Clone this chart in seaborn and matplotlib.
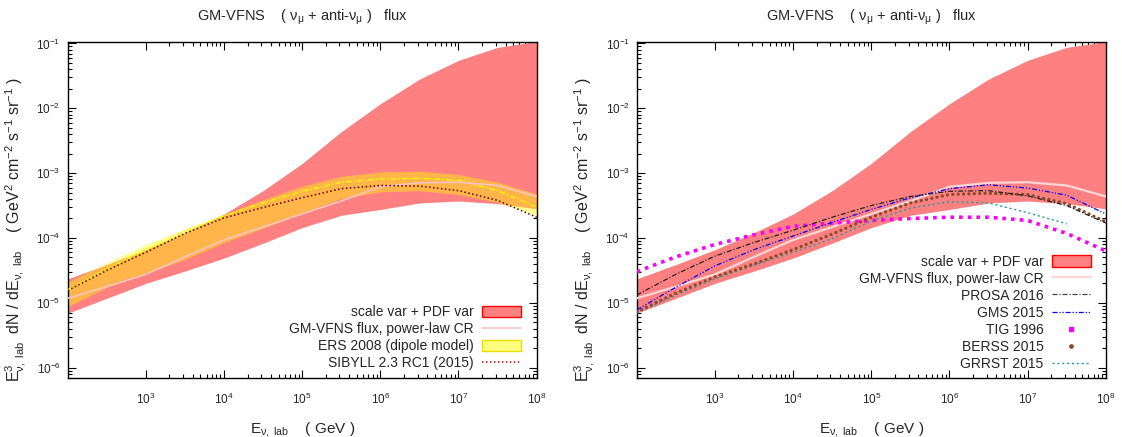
import numpy as np
import pandas as pd
import matplotlib
matplotlib.use("Agg")
import matplotlib.pyplot as plt
import seaborn as sns
from matplotlib.ticker import FixedLocator, LogFormatterSciNotation, NullFormatter
from matplotlib.patches import Patch
from matplotlib.lines import Line2D

# x grid: log10(E_nu,lab / GeV)
log_e = [2.0, 2.5, 3.0, 3.5, 4.0, 4.5, 5.0, 5.5, 6.0, 6.5, 7.0, 7.5, 8.0]

# all fluxes below as log10(E^3 dN/dE / GeV^2 cm^-2 s^-1 sr^-1)
# GM-VFNS: scale var + PDF var band and central power-law CR curve
band_hi = [-4.63, -4.41, -4.18, -3.92, -3.63, -3.27, -2.85, -2.36, -1.93, -1.55, -1.26, -1.06, -0.97]
band_lo = [-5.16, -4.93, -4.70, -4.51, -4.31, -4.08, -3.84, -3.65, -3.56, -3.46, -3.43, -3.47, -3.55]
gmvfns = [-4.93, -4.75, -4.56, -4.29, -4.03, -3.83, -3.63, -3.43, -3.21, -3.15, -3.14, -3.19, -3.36]

# left panel
ers_hi = [-4.68, -4.38, -4.10, -3.86, -3.63, -3.41, -3.20, -3.05, -2.98, -2.97, -3.02, -3.14, -3.32]
ers_lo = [-5.06, -4.76, -4.55, -4.33, -4.07, -3.85, -3.62, -3.39, -3.29, -3.27, -3.33, -3.45, -3.65]
ers_mid = [-4.80, -4.48, -4.18, -3.90, -3.66, -3.46, -3.28, -3.14, -3.09, -3.08, -3.11, -3.27, -3.52]
sibyll = [-4.81, -4.50, -4.22, -3.93, -3.69, -3.53, -3.38, -3.24, -3.19, -3.20, -3.27, -3.42, -3.68]

# right panel
prosa = [-4.88, -4.56, -4.28, -4.07, -3.88, -3.68, -3.50, -3.36, -3.28, -3.27, -3.35, -3.50, -3.77]
gms = [-5.11, -4.76, -4.43, -4.18, -3.97, -3.76, -3.56, -3.38, -3.24, -3.18, -3.23, -3.34, -3.63]
tig = [-4.52, -4.29, -4.10, -3.95, -3.82, -3.77, -3.73, -3.70, -3.68, -3.68, -3.73, -3.93, -4.20]
berss = [-5.14, -4.85, -4.60, -4.40, -4.18, -3.94, -3.68, -3.46, -3.33, -3.31, -3.33, -3.47, -3.75]
log_e_grrst = [2.0, 2.5, 3.0, 3.5, 4.0, 4.5, 5.0, 5.5, 6.0, 6.5, 7.0, 7.5]
grrst = [-5.16, -4.88, -4.63, -4.42, -4.22, -4.01, -3.74, -3.54, -3.44, -3.46, -3.61, -3.78]

df = pd.DataFrame({"E": 10 ** np.array(log_e)})
for name, vals in [("band_hi", band_hi), ("band_lo", band_lo), ("gmvfns", gmvfns),
                   ("ers_hi", ers_hi), ("ers_lo", ers_lo), ("ers_mid", ers_mid),
                   ("sibyll", sibyll), ("prosa", prosa), ("gms", gms),
                   ("tig", tig), ("berss", berss)]:
    df[name] = 10 ** np.array(vals)
df_grrst = pd.DataFrame({"E": 10 ** np.array(log_e_grrst), "grrst": 10 ** np.array(grrst)})

sns.set_theme(style="ticks")
plt.rcParams["font.family"] = ["Liberation Sans", "DejaVu Sans"]
plt.rcParams["mathtext.fontset"] = "custom"
plt.rcParams["mathtext.rm"] = "Liberation Sans"
plt.rcParams["mathtext.it"] = "Liberation Sans:italic"
plt.rcParams["mathtext.bf"] = "Liberation Sans:bold"
plt.rcParams["mathtext.sf"] = "Liberation Sans"

RED_FILL = "#ff8080"
PINK_L = "#f6c4c4"
PINK_R = "#ffd6d6"

title = r"GM-VFNS    ( ν$_{\mathrm{μ}}$ + anti-ν$_{\mathrm{μ}}$ )   flux"
ylab = (r"E$^{3}_{\mathrm{ν,\ lab}}$  dN / dE$_{\mathrm{ν,\ lab}}$    "
        r"( GeV$^{2}$ cm$^{-2}$ s$^{-1}$ sr$^{-1}$ )")
xlab = r"E$_{\mathrm{ν,\ lab}}$    ( GeV )"

fig = plt.figure(figsize=(11.22, 4.37), dpi=100)
ax1 = fig.add_axes([0.0603, 0.1357, 0.418, 0.768])
ax2 = fig.add_axes([0.5675, 0.1357, 0.418, 0.768])


def style_axes(ax):
    ax.set_xscale("log")
    ax.set_yscale("log")
    ax.set_xlim(1e2, 1e8)
    ax.set_ylim(7e-7, 0.105)
    ax.xaxis.set_major_locator(FixedLocator([1e3, 1e4, 1e5, 1e6, 1e7, 1e8]))
    ax.xaxis.set_major_formatter(LogFormatterSciNotation())
    ax.xaxis.set_minor_locator(FixedLocator([k * 10.0 ** d for d in range(3, 8) for k in range(2, 10)]))
    ax.xaxis.set_minor_formatter(NullFormatter())
    ax.yaxis.set_major_locator(FixedLocator([1e-6, 1e-5, 1e-4, 1e-3, 1e-2, 1e-1]))
    ax.yaxis.set_major_formatter(LogFormatterSciNotation())
    ax.yaxis.set_minor_locator(FixedLocator([k * 10.0 ** d for d in range(-7, -1) for k in range(2, 10)]))
    ax.yaxis.set_minor_formatter(NullFormatter())
    ax.tick_params(which="both", direction="in", top=True, right=True, color="black", width=0.8)
    ax.tick_params(which="major", length=5.5)
    ax.tick_params(which="minor", length=2.6)
    ax.tick_params(axis="x", which="major", labelsize=8.5, pad=10)
    ax.tick_params(axis="y", which="major", labelsize=8.5, pad=5)
    for s in ax.spines.values():
        s.set_linewidth(1.0)
        s.set_color("black")
    ax.set_title(title, fontsize=10.5, y=1.04)
    ax.set_xlabel(xlab, fontsize=11)
    ax.set_ylabel(ylab, fontsize=11.5)
    ax.xaxis.set_label_coords(0.5, -0.125)
    ax.yaxis.set_label_coords(-0.085, 0.44)


# ---- left panel
style_axes(ax1)
ax1.fill_between(df["E"], df["band_lo"], df["band_hi"], color=RED_FILL, lw=0, zorder=1)
ax1.fill_between(df["E"], df["ers_lo"], df["ers_hi"], color="yellow", alpha=0.42, lw=0, zorder=2)
sns.lineplot(data=df, x="E", y="ers_mid", ax=ax1, color="#ffff00", lw=1.0,
             linestyle=(0, (4, 1.5, 1, 1.5)), zorder=3)
sns.lineplot(data=df, x="E", y="gmvfns", ax=ax1, color=PINK_L, lw=1.2, zorder=4)
sns.lineplot(data=df, x="E", y="sibyll", ax=ax1, color="#500000", lw=1.1,
             linestyle=(0, (1, 1.6)), zorder=5)

h1 = [Patch(facecolor=RED_FILL, edgecolor="red", lw=1.0),
      Line2D([], [], color=PINK_L, lw=1.2),
      Patch(facecolor="#ffff80", edgecolor="#eedd00", lw=1.0),
      Line2D([], [], color="#8b1010", lw=1.1, linestyle=(0, (1, 1.6)))]
l1 = ["scale var + PDF var", "GM-VFNS flux, power-law CR", "ERS 2008 (dipole model)", "SIBYLL 2.3 RC1 (2015)"]
ax1.legend(h1, l1, loc="lower right", bbox_to_anchor=(0.966, 0.022), frameon=False,
           markerfirst=False, fontsize=10, handlelength=2.8, handleheight=0.9,
           handletextpad=0.6, labelspacing=0.22, borderaxespad=0, borderpad=0)

# ---- right panel
style_axes(ax2)
ax2.fill_between(df["E"], df["band_lo"], df["band_hi"], color=RED_FILL, lw=0, zorder=1)
sns.lineplot(data=df, x="E", y="gmvfns", ax=ax2, color=PINK_R, lw=1.6, zorder=3)
sns.lineplot(data=df, x="E", y="tig", ax=ax2, color="#ff00ff", lw=2.6,
             linestyle=(0, (1, 1.4)), dash_capstyle="butt", zorder=4)
sns.lineplot(data=df_grrst, x="E", y="grrst", ax=ax2, color="#229999", lw=1.0,
             linestyle=(0, (1.5, 2)), zorder=5)
sns.lineplot(data=df, x="E", y="berss", ax=ax2, color="#8b4a2b", lw=2.4,
             linestyle=(0, (0.01, 1.6)), dash_capstyle="round", zorder=6)
sns.lineplot(data=df, x="E", y="gms", ax=ax2, color="#0000ff", lw=0.9,
             linestyle=(0, (4, 1.5, 1, 1.5, 1, 1.5)), zorder=7)
sns.lineplot(data=df, x="E", y="prosa", ax=ax2, color="#222222", lw=0.9,
             linestyle=(0, (4, 1.5, 1, 1.5)), zorder=8)

h2 = [Patch(facecolor=RED_FILL, edgecolor="red", lw=1.0),
      Line2D([], [], color=PINK_R, lw=1.6),
      Line2D([], [], color="#444444", lw=0.9, linestyle=(0, (4, 1.5, 1, 1.5))),
      Line2D([], [], color="#0000ff", lw=0.9, linestyle=(0, (4, 1.5, 1, 1.5, 1, 1.5))),
      Line2D([], [], color="#ff00ff", marker="s", markersize=2.8, linestyle="none"),
      Line2D([], [], color="#8b4a2b", marker="o", markersize=2.4, linestyle="none"),
      Line2D([], [], color="#229999", lw=1.0, linestyle=(0, (1.5, 2)))]
l2 = ["scale var + PDF var", "GM-VFNS flux, power-law CR", "PROSA 2016", "GMS 2015",
      "TIG 1996", "BERSS 2015", "GRRST 2015"]
ax2.legend(h2, l2, loc="lower right", bbox_to_anchor=(0.968, 0.02), frameon=False,
           markerfirst=False, fontsize=10, handlelength=2.8, handleheight=0.9,
           handletextpad=0.6, labelspacing=0.22, borderaxespad=0, borderpad=0)

fig.savefig("out.png", dpi=100)
